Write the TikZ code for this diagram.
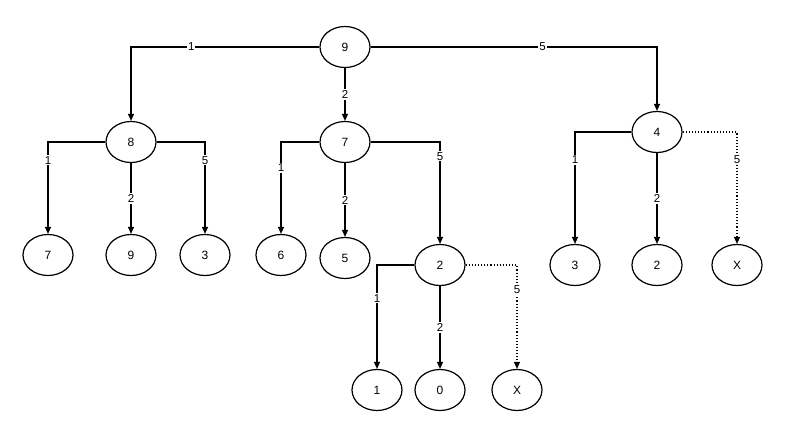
\documentclass[tikz,border=0pt]{standalone}
\usepackage{fontspec}
\setmainfont{Liberation Sans}
\usetikzlibrary{shapes.geometric,arrows.meta}
\begin{document}
\begin{tikzpicture}[x=1pt,y=-1pt,
  nd/.style={ellipse,draw,line width=1.2pt,minimum width=50pt,minimum height=41pt,inner sep=0pt,font=\fontsize{12}{14}\selectfont},
  ed/.style={line width=1.1pt,-{Triangle[length=7pt,width=6pt]}},
  dt/.style={ed,dotted},
  lb/.style={fill=white,inner sep=1pt,font=\fontsize{11.5}{13}\selectfont}]
\useasboundingbox (0,0) rectangle (786,439);
\node[nd] (r) at (345,47) {9};
\node[nd] (a) at (131,142) {8};
\node[nd] (b) at (345,142) {7};
\node[nd] (c) at (657,132) {4};
\node[nd] (a1) at (48,255) {7};
\node[nd] (a2) at (131,255) {9};
\node[nd] (a3) at (205,255) {3};
\node[nd] (b1) at (281,255) {6};
\node[nd] (b2) at (345,258) {5};
\node[nd] (b3) at (440,265) {2};
\node[nd] (c1) at (575,265) {3};
\node[nd] (c2) at (657,265) {2};
\node[nd] (c3) at (737,265) {X};
\node[nd] (d1) at (377,390) {1};
\node[nd] (d2) at (440,390) {0};
\node[nd] (d3) at (517,390) {X};
\draw[ed] (r.west) -| node[lb,pos=0.34]{1} (a.north);
\draw[ed] (r.east) -| node[lb,pos=0.3]{5} (c.north);
\draw[ed] (r) -- node[lb]{2} (b);
\draw[ed] (a.west) -| node[lb,pos=0.6]{1} (a1.north);
\draw[ed] (a) -- node[lb]{2} (a2);
\draw[ed] (a.east) -| node[lb,pos=0.6]{5} (a3.north);
\draw[ed] (b.west) -| node[lb,pos=0.64]{1} (b1.north);
\draw[ed] (b) -- node[lb]{2} (b2);
\draw[ed] (b.east) -| node[lb,pos=0.57]{5} (b3.north);
\draw[ed] (c.west) -| node[lb,pos=0.625]{1} (c1.north);
\draw[ed] (c) -- node[lb]{2} (c2);
\draw[dt] (c.east) -| node[lb,pos=0.625]{5} (c3.north);
\draw[ed] (b3.west) -| node[lb,pos=0.66]{1} (d1.north);
\draw[ed] (b3) -- node[lb]{2} (d2);
\draw[dt] (b3.east) -| node[lb,pos=0.62]{5} (d3.north);
\end{tikzpicture}
\end{document}
